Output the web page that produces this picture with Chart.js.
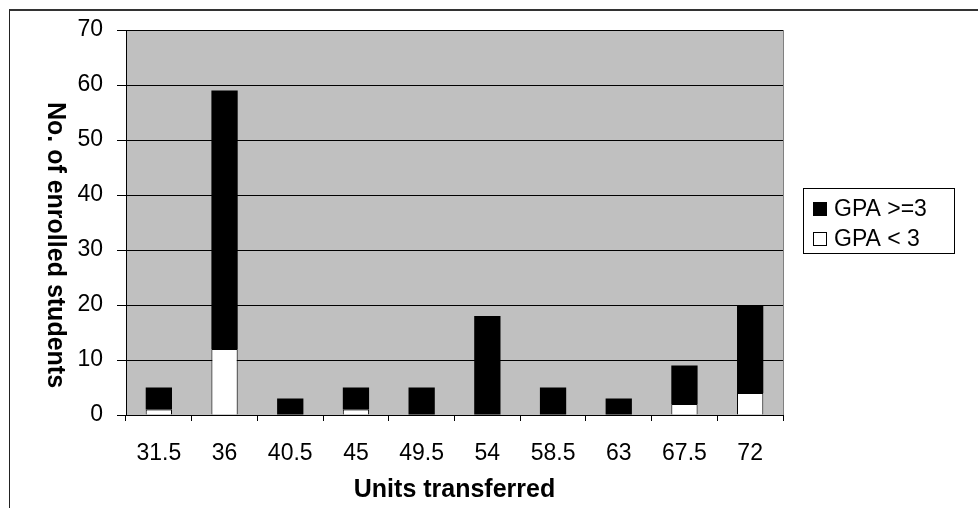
<!DOCTYPE html>
<html>
<head>
<meta charset="utf-8">
<script src="https://cdn.jsdelivr.net/npm/chart.js@4"></script>
<style>
    body { margin: 0; background: #fff; }
    #wrap { position: relative; width: 978px; height: 508px; }
    #frame { position: absolute; left: 9px; top: 9px; right: -5px; bottom: -5px; border-left: 1px solid #222; border-top: 2px solid #333; }
</style>
</head>
<body>
<div id="wrap">
    <div id="frame"></div>
    <canvas id="chart"></canvas>
</div>
<script>
// --- data ---
const units = ["31.5", "36", "40.5", "45", "49.5", "54", "58.5", "63", "67.5", "72"];
const gpaHigh = [4, 47, 3, 4, 5, 18, 5, 3, 7, 16];   // GPA >=3
const gpaLow = [1, 12, 0, 1, 0, 0, 0, 0, 2, 4];      // GPA < 3
const yTicks = [0, 10, 20, 30, 40, 50, 60, 70];

const FONT = "'Liberation Sans', Arial, sans-serif";

// grey plot area
const plotBg = {
    id: "plotBg",
    beforeDraw(chart) {
        const { ctx, chartArea: a } = chart;
        ctx.save();
        ctx.fillStyle = "#c0c0c0";
        ctx.fillRect(a.left, a.top, a.right - a.left, a.bottom - a.top);
        ctx.strokeStyle = "#808080";
        ctx.lineWidth = 1;
        ctx.beginPath();
        ctx.moveTo(a.right + 0.5, a.top);
        ctx.lineTo(a.right + 0.5, a.bottom);
        ctx.stroke();
        ctx.restore();
    }
};

// y title reads top to bottom, legend with a frame
const extras = {
    id: "extras",
    afterDraw(chart) {
        const { ctx } = chart;
        ctx.save();
        ctx.translate(55, 245);
        ctx.rotate(Math.PI / 2);
        ctx.font = "bold 25px " + FONT;
        ctx.fillStyle = "#000";
        ctx.textAlign = "center";
        ctx.textBaseline = "middle";
        ctx.fillText("No. of enrolled students", 0, 0);
        ctx.restore();

        ctx.save();
        ctx.strokeStyle = "#000";
        ctx.lineWidth = 1;
        ctx.strokeRect(803.5, 188.5, 151, 65);
        ctx.font = "23px " + FONT;
        ctx.textBaseline = "middle";
        const sets = chart.data.datasets.slice().reverse();
        sets.forEach((ds, i) => {
            const cy = 209 + i * 30;
            ctx.fillStyle = ds.backgroundColor;
            ctx.fillRect(813, cy - 7, 14, 14);
            ctx.strokeRect(813.5, cy - 6.5, 13, 13);
            ctx.fillStyle = "#000";
            ctx.fillText(ds.label, 834, cy + 1);
        });
        ctx.restore();
    }
};

new Chart(document.getElementById("chart"), {
    type: "bar",
    data: {
        labels: units,
        datasets: [
            {
                label: "GPA < 3",
                data: gpaLow,
                backgroundColor: "#ffffff",
                borderColor: "#000",
                borderWidth: 1,
                inflateAmount: 0
            },
            {
                label: "GPA >=3",
                data: gpaHigh,
                backgroundColor: "#000000",
                borderColor: "#000",
                borderWidth: 0,
                inflateAmount: 0
            }
        ]
    },
    options: {
        responsive: true,
        maintainAspectRatio: false,
        animation: false,
        layout: { padding: { left: 0, top: 30, right: 195, bottom: 0 } },
        datasets: { bar: { barPercentage: 0.4, categoryPercentage: 1.0 } },
        plugins: {
            legend: { display: false },
            tooltip: { enabled: false }
        },
        scales: {
            x: {
                stacked: true,
                grid: { drawOnChartArea: false, drawTicks: true, tickLength: 6, color: "#000", offset: true },
                border: { color: "#000", width: 1 },
                ticks: { color: "#000", font: { family: FONT, size: 23 }, padding: 19, maxRotation: 0 },
                title: { display: true, text: "Units transferred", color: "#000", font: { family: FONT, size: 25, weight: "bold" }, padding: { top: 0, bottom: 3 } },
                afterFit(scale) { scale.height = 93; }
            },
            y: {
                stacked: true,
                min: 0,
                max: 70,
                afterBuildTicks(scale) { scale.ticks = yTicks.map(v => ({ value: v })); },
                grid: { color: "#000", lineWidth: 1, tickLength: 9 },
                border: { color: "#000", width: 1 },
                ticks: { color: "#000", font: { family: FONT, size: 23 }, padding: 14 },
                afterFit(scale) { scale.width = 126; }
            }
        }
    },
    plugins: [plotBg, extras]
});
</script>
</body>
</html>
